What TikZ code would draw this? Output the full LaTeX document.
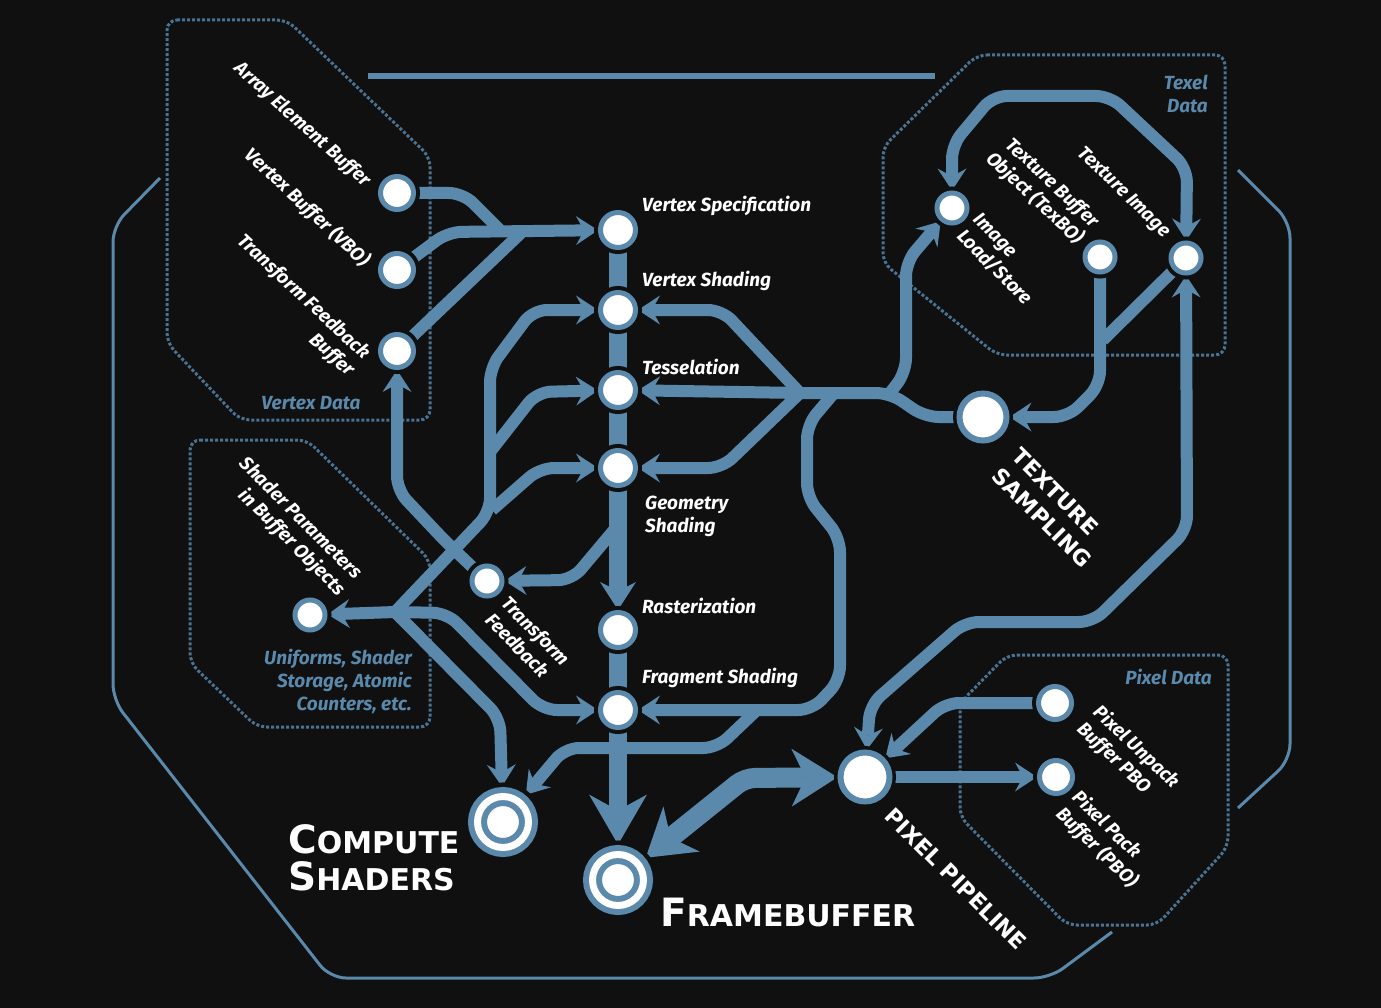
\documentclass[tikz,border=0pt]{standalone}
\usepackage{fontspec}
\setmainfont{Fira Sans}
\newfontfamily\titlefont{DejaVu Sans}
\usetikzlibrary{arrows.meta,positioning,calc,backgrounds}
\definecolor{mapblue}{HTML}{5A89AB}
\definecolor{mapframe}{HTML}{4A7393}
\definecolor{mapback}{HTML}{101010}
\newcommand{\capword}[2]{{\fontsize{39}{37}\selectfont #1}{\fontsize{30}{37}\selectfont #2}}

\begin{document}
\begin{tikzpicture}[
  x=1pt, y=-1pt,
  pipe/.style={draw=mapblue, line width=12pt, rounded corners=14pt},
  flow/.style={pipe, -{Stealth[length=22pt,width=29pt,inset=8pt,line width=0pt]}},
  flowboth/.style={pipe, {Stealth[length=22pt,width=29pt,inset=8pt,line width=0pt]}-{Stealth[length=22pt,width=29pt,inset=8pt,line width=0pt]}},
  column/.style={draw=mapblue, line width=18pt},
  drop/.style={column, -{Stealth[length=28pt,width=36pt,inset=9pt,line width=0pt]}},
  bigdrop/.style={column, -{Stealth[length=50pt,width=58pt,inset=16pt,line width=0pt]}},
  bigboth/.style={draw=mapblue, line width=20pt, rounded corners=10pt,
    {Stealth[length=46pt,width=58pt,inset=14pt,line width=0pt]}-{Stealth[length=46pt,width=58pt,inset=14pt,line width=0pt]}},
  area/.style={draw=mapframe, line width=3pt, rounded corners=10pt, dash pattern=on 3pt off 2pt},
  rim/.style={draw=mapblue, line width=3pt, rounded corners=16pt},
  stop/.style={circle, fill=white, draw=mapblue, line width=5pt, minimum size=33pt,
    inner sep=0pt, preaction={draw=mapback, line width=13pt}},
  terminal/.style={circle, fill=white, draw=mapblue, line width=6pt, double=white,
    double distance=7pt, minimum size=51pt, inner sep=0pt, outer sep=10pt,
    preaction={draw=mapback, line width=28pt}},
  lbl/.style={text=white, inner sep=0pt, font=\fontsize{19}{23}\selectfont\bfseries\itshape},
  datalbl/.style={lbl, text=mapblue},
  caps/.style={text=white, inner sep=0pt, font=\titlefont\fontsize{22}{28}\selectfont\bfseries},
  title/.style={text=white, inner sep=0pt, font=\titlefont\fontsize{30}{37}\selectfont\bfseries}
]

% stops
\node[stop] (aeb) at (397,193) {};
\node[stop] (vbo) at (397,270) {};
\node[stop] (tfbuf) at (397,351) {};

\node[stop, minimum size=35pt] (vspec) at (618,230) {};
\node[stop, minimum size=35pt] (vshade) at (618,310) {};
\node[stop, minimum size=35pt] (tess) at (618,390) {};
\node[stop, minimum size=35pt] (geom) at (618,468) {};
\node[stop, minimum size=35pt] (raster) at (618,630) {};
\node[stop, minimum size=35pt] (frag) at (618,710) {};
\node[terminal] (fbuf) at (618,880) {};
\node[terminal] (compute) at (503,822) {};

\node[stop, minimum size=30pt] (sparams) at (310,615) {};
\node[stop, minimum size=30pt] (tfeed) at (487,581) {};

\node[stop, minimum size=30pt] (ils) at (952,208) {};
\node[stop, minimum size=30pt] (texbo) at (1100,257) {};
\node[stop, minimum size=30pt] (teximg) at (1186,258) {};
\node[stop, minimum size=47pt, line width=6pt] (texsamp) at (983,417) {};

\node[stop, minimum size=49pt, line width=6pt] (pixpipe) at (865,777) {};
\node[stop] (unpack) at (1055,703) {};
\node[stop] (pack) at (1056,777) {};

\coordinate (shub) at (395,612);
\coordinate (thub) at (800,393);

% labels
\node[lbl, anchor=east, rotate=-42] at (368,184) {Array Element Buffer};
\node[lbl, anchor=east, rotate=-43] at (367,263) {Vertex Buffer (VBO)};
\node[lbl, anchor=east, rotate=-43, align=right] at (359,365) {Transform Feedback\\Buffer};
\node[datalbl] at (311,403) {Vertex Data};

\node[lbl, anchor=west] at (642,206) {Vertex Specification};
\node[lbl, anchor=west] at (642,281) {Vertex Shading};
\node[lbl, anchor=west] at (642,367) {Tesselation};
\node[lbl, anchor=west, align=left] at (645,516) {Geometry\\Shading};
\node[lbl, anchor=west] at (642,606) {Rasterization};
\node[lbl, anchor=west] at (642,678) {Fragment Shading};

\node[datalbl, anchor=east, align=right] at (1208,94) {Texel\\Data};
\node[lbl, anchor=east, rotate=-43, align=right] at (1088,233) {Texture Buffer\\Object (TexBO)};
\node[lbl, anchor=east, rotate=-44] at (1167,235) {Texture Image};
\node[lbl, anchor=west, rotate=-45, align=left] at (968,225) {Image\\Load/Store};
\node[caps, anchor=west, rotate=-45, align=left] at (1006,462) {TEXTURE\\SAMPLING};

\node[lbl, anchor=east, rotate=-45, align=right] at (350,585) {Shader Parameters\\in Buffer Objects};
\node[datalbl, anchor=east, align=right] at (412,681) {Uniforms, Shader\\Storage, Atomic\\Counters, etc.};
\node[lbl, anchor=west, rotate=-45, align=left] at (497,608) {Transform\\Feedback};

\node[datalbl, anchor=east] at (1212,677) {Pixel Data};
\node[lbl, anchor=west, rotate=-43, align=left] at (1088,718) {Pixel Unpack\\Buffer PBO};
\node[lbl, anchor=west, rotate=-44, align=left] at (1067,803) {Pixel Pack\\Buffer (PBO)};
\node[caps, anchor=west, rotate=-45] at (889,812) {PIXEL PIPELINE};

\node[title, anchor=north west, align=left] at (288,824) {\capword{C}{OMPUTE}\\\capword{S}{HADERS}};
\node[title, anchor=north west] at (660,898) {\capword{F}{RAMEBUFFER}};

\begin{scope}[on background layer]
\fill[mapback] (0,0) rectangle (1381,1008);

% data areas
\draw[area] (167,20) -- (287,20) -- (430,157) -- (430,420) -- (240,420) -- (167,343) -- cycle;
\draw[area] (977,55) -- (1225,55) -- (1225,355) -- (997,355) -- (883,263) -- (883,147) -- cycle;
\draw[area] (190,440) -- (307,440) -- (430,560) -- (430,727) -- (257,727) -- (190,663) -- cycle;
\draw[area] (1007,655) -- (1228,655) -- (1228,847) -- (1157,925) -- (1067,925) -- (960,817) -- (960,703) -- cycle;

\draw[rim, line width=6pt] (368,76) -- (935,76);
\draw[rim] (160,178) -- (113,226) -- (113,700) -- (330,978) -- (1050,978) -- (1112,932);
\draw[rim] (1238,170) -- (1290,222) -- (1290,760) -- (1238,808);

% vertex data
\draw[pipe] (aeb) -- (463,193) -- (500,230);
\draw[pipe] (tfbuf) -- (522,232);
\draw[flow] (vbo) -- (448,232) -- (vspec);

% shader parameters
\draw[flow] (shub) -- (sparams);
\draw[flow] (shub) -- (490,512) -- (490,368) -- (533,310) -- (vshade);
\draw[flow] (490,452) -- (537,392) -- (tess);
\draw[flow] (492,510) -- (540,468) -- (geom);
\draw[flow] (shub) -- (447,613) -- (543,710) -- (frag);
\draw[flow] (shub) -- (500,718) -- (compute);

% transform feedback
\draw[flow] (tfeed) -- (447,543) -- (397,490) -- (tfbuf);
\draw[flow] (614,530) -- (572,580) -- (tfeed);

% texture sampling
\draw[pipe] (texsamp) -- (925,417) -- (890,393) -- (thub);
\draw[flow] (thub) -- (722,310) -- (vshade);
\draw[flow] (thub) -- (tess);
\draw[flow] (thub) -- (722,468) -- (geom);
\draw[flow] (890,393) -- (906,372) -- (906,262) -- (ils);
\draw[flow] (834,393) -- (807,425) -- (807,497) -- (840,538) -- (840,680) -- (812,710) -- (frag);
\draw[flow] (757,710) -- (717,748) -- (565,748) -- (compute);

% texel data
\draw[flowboth] (ils) -- (952,145) -- (993,96) -- (1110,96) -- (1187,168) -- (teximg);
\draw[flow] (texbo) -- (1100,385) -- (1068,417) -- (texsamp);
\draw[pipe] (teximg) -- (1103,340);
\draw[flowboth] (teximg) -- (1187,530) -- (1093,622) -- (965,622) -- (870,705) -- (pixpipe);

% pixel data
\draw[flow] (unpack) -- (945,703) -- (pixpipe);
\draw[flow] (pixpipe) -- (pack);
\draw[bigboth] (fbuf) -- (745,778) -- (pixpipe);

% pipeline column
\draw[column] (vspec.center) -- (geom.center);
\draw[drop] (geom.center) -- (raster);
\draw[column] (raster.center) -- (frag.center);
\draw[bigdrop] (frag.center) -- (fbuf);
\end{scope}

\useasboundingbox (0,0) rectangle (1381,1008);
\end{tikzpicture}
\end{document}
